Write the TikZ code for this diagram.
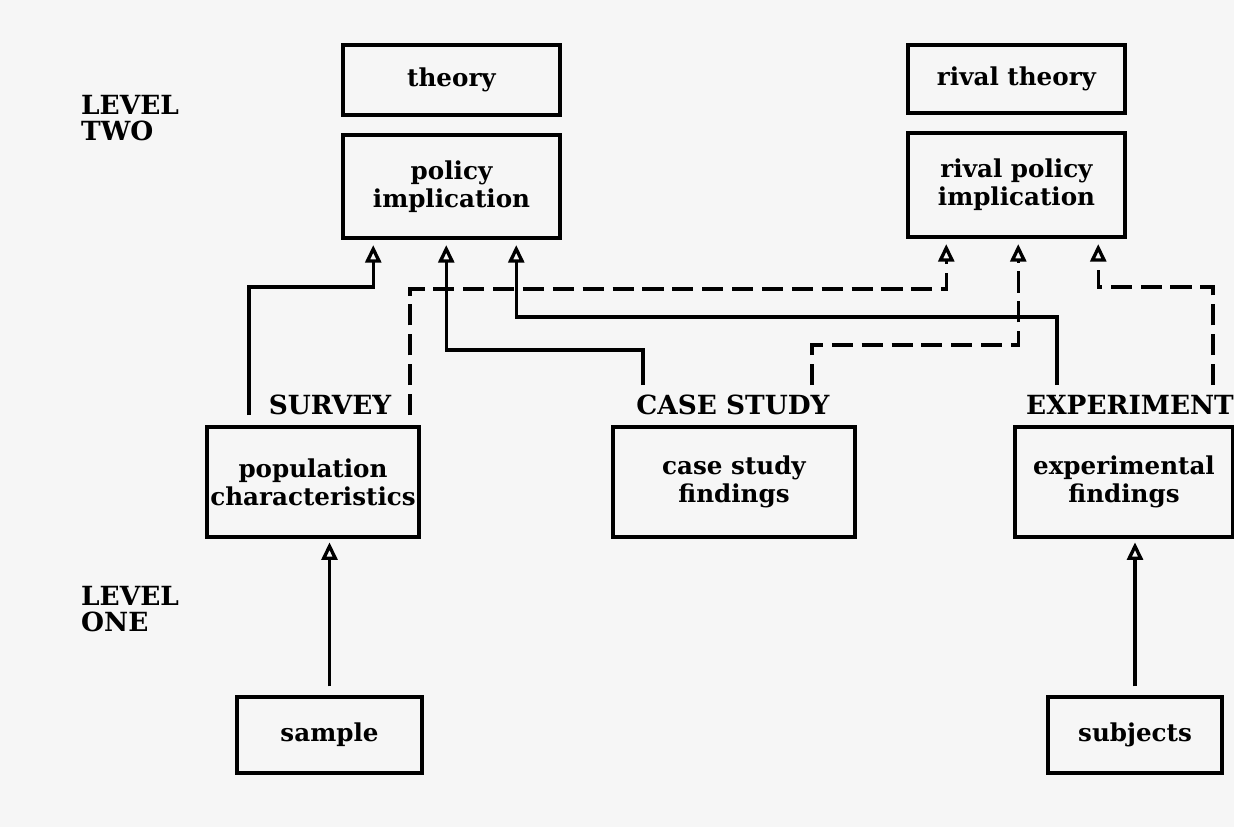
\documentclass[tikz,border=0pt]{standalone}
\usepackage{fontspec}
\setmainfont{DejaVu Serif}
\usetikzlibrary{arrows.meta}

\begin{document}
\begin{tikzpicture}[
  box/.style={draw,line width=2pt,align=center,inner sep=2pt,
    font=\bfseries\fontsize{14}{16}\selectfont},
  level/.style={anchor=west,align=left,font=\bfseries\fontsize{15}{14.5}\selectfont},
  method/.style={font=\bfseries\fontsize{15}{17}\selectfont},
  link/.style={line width=1.9pt,-{Triangle[open,length=10pt,width=9pt]}},
  rival/.style={link,dash pattern=on 12pt off 5pt}]
\fill[gray!7] (0,0) rectangle (24.68,-16.54);
\useasboundingbox (0,0) rectangle (24.68,-16.54);

% level two
\node[level] (lvtwo) at (1.5,-2.36) {LEVEL\\TWO};
\node[box,minimum width=4.34cm,minimum height=1.4cm] (theory) at (9.03,-1.6) {theory};
\node[box,minimum width=4.34cm,minimum height=2.06cm] (policy) at (9.03,-3.73) {policy\\implication};
\node[box,minimum width=4.34cm,minimum height=1.36cm] (rtheory) at (20.33,-1.58) {rival theory};
\node[box,minimum width=4.34cm,minimum height=2.08cm] (rpolicy) at (20.33,-3.7) {rival policy\\implication};

% methods
\node[method] (survey) at (6.6,-8.1) {SURVEY};
\node[method] (casest) at (14.66,-8.1) {CASE STUDY};
\node[method] (expmt) at (22.6,-8.1) {EXPERIMENT};
\node[box,minimum width=4.2cm,minimum height=2.2cm] (pop) at (6.26,-9.64) {population\\characteristics};
\node[box,minimum width=4.84cm,minimum height=2.2cm] (case) at (14.68,-9.64) {case study\\findings};
\node[box,minimum width=4.36cm,minimum height=2.2cm] (exp) at (22.48,-9.64) {experimental\\findings};

% level one
\node[level] (lvone) at (1.5,-12.18) {LEVEL\\ONE};
\node[box,minimum width=3.7cm,minimum height=1.52cm] (sample) at (6.59,-14.7) {sample};
\node[box,minimum width=3.48cm,minimum height=1.52cm] (subjects) at (22.7,-14.7) {subjects};

% arrow ends under the implications
\coordinate (p1) at ([xshift=0.64cm,yshift=-3pt]policy.south west);
\coordinate (p2) at ([xshift=2.1cm,yshift=-3pt]policy.south west);
\coordinate (p3) at ([xshift=3.5cm,yshift=-3pt]policy.south west);
\coordinate (r1) at ([xshift=0.8cm,yshift=-3pt]rpolicy.south west);
\coordinate (r2) at ([xshift=2.24cm,yshift=-3pt]rpolicy.south west);
\coordinate (r3) at ([xshift=3.84cm,yshift=-3pt]rpolicy.south west);
% line starts above the findings
\coordinate (sv1) at (4.98,-8.3);
\coordinate (sv2) at (8.2,-8.3);
\coordinate (cs1) at (12.86,-7.7);
\coordinate (cs2) at (16.24,-7.7);
\coordinate (ex1) at (21.14,-7.7);
\coordinate (ex2) at (24.26,-7.7);

\draw[link] (sv1) -- ++(0,2.56) -| (p1);
\draw[rival] (sv2) -- ++(0,2.52) -| (r1);
\draw[link] (cs1) -- ++(0,0.7) -| (p2);
\draw[rival] (cs2) -- ++(0,0.8) -| (r2);
\draw[link] (ex1) -- ++(0,1.36) -| (p3);
\draw[rival] (ex2) -- ++(0,1.96) -| (r3);

\draw[link,shorten <=5pt,shorten >=2pt] (sample.north) -- (sample.north |- pop.south);
\draw[link,shorten <=5pt,shorten >=2pt] (subjects.north) -- (subjects.north |- exp.south);
\end{tikzpicture}
\end{document}
